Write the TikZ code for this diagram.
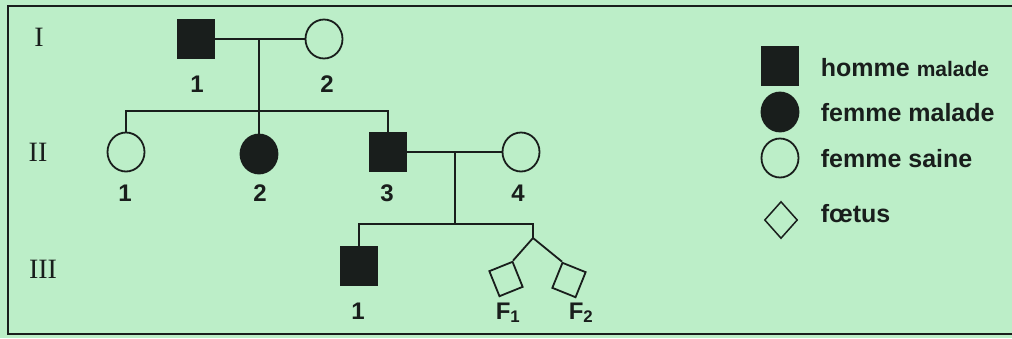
\documentclass[tikz,border=0pt]{standalone}
\usepackage{xcolor}
\usepackage{fontspec}
\setmainfont{Liberation Serif}
\setsansfont{Liberation Sans}
\usepackage{tikz}
\usetikzlibrary{positioning, shapes, shapes.geometric}
\definecolor{fond}{RGB}{188,238,200}
\definecolor{encre}{RGB}{25,30,28}

\begin{document}
\begin{tikzpicture}[
    x=1pt, y=-1pt,
    line width=1.8pt, draw=encre,
    person/.style={draw=encre, line width=1.8pt, inner sep=0pt},
    homme/.style={person, rectangle, minimum width=37pt, minimum height=38pt},
    femme/.style={person, ellipse, minimum width=37pt, minimum height=39pt},
    malade/.style={fill=encre},
    foetus/.style={person, rectangle, minimum width=25pt, minimum height=27pt},
    numero/.style={font=\sffamily\bfseries\fontsize{24}{24}\selectfont, anchor=base, inner sep=0pt, text=encre},
    generation/.style={font=\fontsize{28}{28}\selectfont, inner sep=0pt, text=encre},
    legende/.style={font=\sffamily\bfseries\fontsize{25}{25}\selectfont, anchor=base west, inner sep=0pt, text=encre}
]
\useasboundingbox (0,0) rectangle (1012,338);
\fill[fond] (0,0) rectangle (1012,338);

% Frame
\draw[line width=1.5pt] (1012,6) -- (8,6) -- (8,334) -- (1012,334);

% Generations
\node[generation] (g1) at (39,37) {I};
\node[generation] (g2) at (38,152) {II};
\node[generation] (g3) at (43,269) {III};

% Generation I
\node[homme, malade] (i1) at (196,39) {};
\node[femme] (i2) at (324,39) {};
\coordinate (m1) at (259,39);
\coordinate (s1) at (259,111);
\draw (i1) -- (i2);
\draw (m1) -- (s1);

\node[numero] (n11) at (197,92) {1};
\node[numero] (n12) at (327,92) {2};

% Generation II
\node[femme] (ii1) at (126,152) {};
\node[femme, malade] (ii2) at (259,154) {};
\node[homme, malade] (ii3) at (388,152) {};
\node[femme] (ii4) at (521,152) {};
\draw (ii1.north) |- (s1) -| (ii3.north);
\draw (s1) -- (ii2);

\coordinate (m2) at (455,152);
\coordinate (s2) at (455,224);
\draw (ii3) -- (ii4);
\draw (m2) -- (s2);

\node[numero] (n21) at (125,201) {1};
\node[numero] (n22) at (260,201) {2};
\node[numero] (n23) at (387,201) {3};
\node[numero] (n24) at (518,201) {4};

% Generation III
\node[homme, malade] (iii1) at (359,266) {};
\node[foetus, rotate=22] (f1) at (506,279) {};
\node[foetus, rotate=-22] (f2) at (569,280) {};
\coordinate (jum) at (533,238);
\draw (iii1.north) |- (s2) -| (jum);
\draw (jum) -- (f1.north east);
\draw (jum) -- (f2.north west);

\node[numero] (n31) at (358,319) {1};
\node[numero] (n3f1) at (508,319) {F\textsubscript{1}};
\node[numero] (n3f2) at (581,319) {F\textsubscript{2}};

% Legend
\node[homme, malade] (lh) at (780,66) {};
\node[femme, malade] (lfm) at (780,112) {};
\node[femme] (lfs) at (780,158) {};
\node[person, diamond, minimum width=33pt, minimum height=37pt, line width=1.5pt] (lf) at (781,220) {};

\node[legende] (th) at (820,76) {homme {\fontsize{21}{21}\selectfont malade}};
\node[legende] (tfm) at (820,121) {femme malade};
\node[legende] (tfs) at (820,167) {femme saine};
\node[legende] (tf) at (820,222) {fœtus};

\end{tikzpicture}
\end{document}
